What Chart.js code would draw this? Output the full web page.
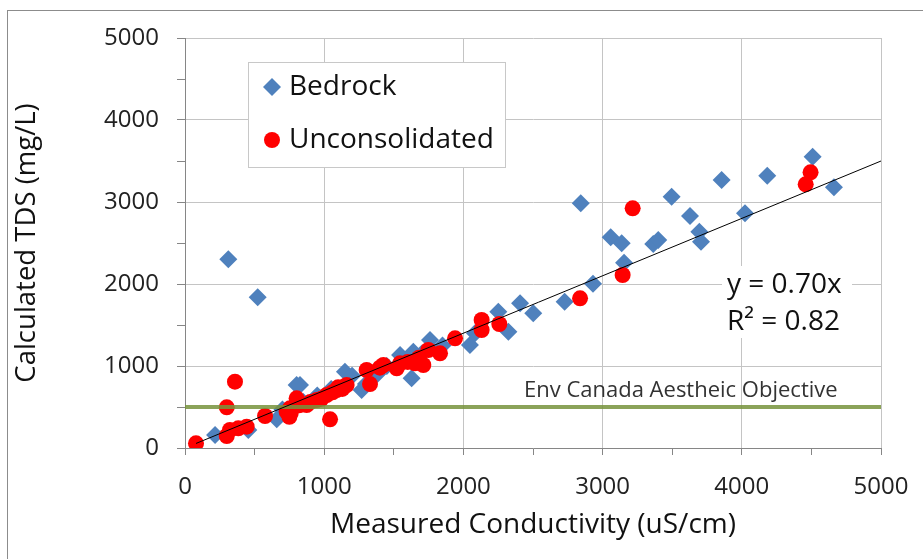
<!DOCTYPE html>
<html>
<head>
<meta charset="utf-8">
<script src="https://cdn.jsdelivr.net/npm/chart.js@4"></script>
<style>
  html, body { margin: 0; padding: 0; background: #fff; }
  canvas { display: block; }
</style>
</head>
<body>
<canvas id="tdsChart" width="923" height="559"></canvas>
<script>
// conductivity (uS/cm) vs calculated TDS (mg/L)
const bedrockCond = [216, 455, 659, 700, 802, 826, 850, 950, 1050, 1149, 1200, 1269, 1300, 1380, 1450, 1545, 1600, 1628, 1640, 1700, 1760, 1850, 2047, 2083, 2251, 2323, 2407, 2502, 2727, 2931, 2843, 3058, 3137, 3154, 3364, 3400, 3496, 3628, 3695, 3707, 3855, 4023, 4183, 4509, 4662, 311, 522];
const bedrockTds = [159, 220, 350, 470, 768, 768, 560, 640, 720, 930, 880, 707, 780, 900, 1000, 1134, 1080, 850, 1174, 1150, 1317, 1250, 1256, 1398, 1662, 1418, 1765, 1643, 1784, 2004, 2984, 2570, 2496, 2260, 2488, 2537, 3065, 2829, 2638, 2516, 3268, 2862, 3321, 3553, 3179, 2301, 1838];

const unconsCond = [79, 300, 300, 323, 359, 383, 443, 575, 730, 750, 754, 760, 802, 820, 874, 900, 946, 980, 1018, 1042, 1060, 1090, 1100, 1130, 1161, 1305, 1329, 1400, 1425, 1521, 1545, 1600, 1652, 1680, 1712, 1748, 1832, 1940, 2131, 2131, 2258, 2838, 3144, 3216, 4459, 4494];
const unconsTds = [57, 146, 496, 220, 809, 240, 260, 390, 443, 380, 484, 430, 606, 520, 524, 560, 585, 600, 646, 350, 680, 707, 740, 720, 768, 951, 780, 980, 1012, 972, 1033, 1050, 1033, 1100, 1012, 1195, 1155, 1338, 1561, 1439, 1512, 1825, 2110, 2923, 3216, 3362];

const xTickLabels = [0, 1000, 2000, 3000, 4000, 5000];
const yTickLabels = [0, 1000, 2000, 3000, 4000, 5000];

const trendSlope = 0.70;
const trendR2 = 0.82;
const trendRange = [79, 5000];
const aestheticLimit = 500;
const aestheticLabel = 'Env Canada Aestheic Objective';

const toPoints = (xs, ys) => xs.map((x, i) => ({ x, y: ys[i] }));

const FONT = '"Open Sans", "DejaVu Sans", sans-serif';

// outer frame of the chart
const framePlugin = {
  id: 'frame',
  beforeDraw(chart) {
    const ctx = chart.ctx;
    ctx.save();
    ctx.fillStyle = '#fff';
    ctx.fillRect(0, 0, chart.width, chart.height);
    ctx.strokeStyle = '#8c8c8c';
    ctx.lineWidth = 1;
    ctx.strokeRect(7.5, 10.5, chart.width + 20, chart.height + 20);
    ctx.restore();
  }
};

// legend box, trendline equation and objective label
const notesPlugin = {
  id: 'notes',
  afterDatasetsDraw(chart) {
    const ctx = chart.ctx;
    ctx.save();

    // objective label above the line
    ctx.font = '22px ' + FONT;
    ctx.fillStyle = '#333';
    ctx.textBaseline = 'alphabetic';
    ctx.textAlign = 'left';
    ctx.fillText(aestheticLabel, 524, 397);

    // equation box
    ctx.font = '28px ' + FONT;
    const eq = 'y = ' + trendSlope.toFixed(2) + 'x';
    const r2 = 'R² = ' + trendR2.toFixed(2);
    ctx.fillStyle = '#fff';
    ctx.fillRect(722, 266, 130, 72);
    ctx.fillStyle = '#111';
    ctx.fillText(eq, 727, 293);
    ctx.fillText(r2, 727, 330);

    // legend
    const lx = 248.5, ly = 62.5, lw = 257, lh = 105;
    ctx.fillStyle = '#fff';
    ctx.fillRect(lx, ly, lw, lh);
    ctx.strokeStyle = '#c8c8c8';
    ctx.lineWidth = 1;
    ctx.strokeRect(lx, ly, lw, lh);
    ctx.font = '28px ' + FONT;
    const rows = [87, 140];
    [0, 1].forEach((di, i) => {
      const ds = chart.data.datasets[di];
      const cy = rows[i];
      const cx = 272;
      ctx.fillStyle = ds.backgroundColor;
      ctx.beginPath();
      if (ds.pointStyle === 'rectRot') {
        const r = 9;
        ctx.moveTo(cx, cy - r);
        ctx.lineTo(cx + r, cy);
        ctx.lineTo(cx, cy + r);
        ctx.lineTo(cx - r, cy);
        ctx.closePath();
      } else {
        ctx.arc(cx, cy, 8, 0, Math.PI * 2);
      }
      ctx.fill();
      ctx.fillStyle = '#111';
      ctx.textBaseline = 'middle';
      ctx.fillText(ds.label, 289, cy);
    });
    ctx.restore();
  }
};

const tickCb = labels => v => labels.includes(v) ? String(v) : '';
const gridColor = c => (c.tick && c.tick.value % 1000 === 0) ? '#c4c4c4' : 'rgba(0,0,0,0)';

new Chart(document.getElementById('tdsChart'), {
  type: 'scatter',
  data: {
    datasets: [
      {
        label: 'Bedrock',
        data: toPoints(bedrockCond, bedrockTds),
        pointStyle: 'rectRot',
        radius: 9,
        backgroundColor: '#4F81BD',
        borderWidth: 0,
        order: 3
      },
      {
        label: 'Unconsolidated',
        data: toPoints(unconsCond, unconsTds),
        pointStyle: 'circle',
        radius: 8,
        backgroundColor: '#FF0000',
        borderWidth: 0,
        order: 2
      },
      {
        label: aestheticLabel,
        data: [{ x: 0, y: aestheticLimit }, { x: 5000, y: aestheticLimit }],
        showLine: true,
        borderColor: 'rgba(119,147,60,0.85)',
        borderWidth: 4,
        pointRadius: 0,
        order: 1
      },
      {
        label: 'Linear fit',
        data: trendRange.map(x => ({ x, y: trendSlope * x })),
        showLine: true,
        borderColor: '#000',
        borderWidth: 1,
        pointRadius: 0,
        order: 0
      }
    ]
  },
  options: {
    responsive: false,
    animation: false,
    devicePixelRatio: 1,
    events: [],
    layout: { padding: { left: 0, top: 38, right: 42, bottom: 0 } },
    plugins: { legend: { display: false }, tooltip: { enabled: false } },
    scales: {
      x: {
        type: 'linear',
        min: 0,
        max: 5000,
        afterFit: s => {
          s.height = 111;
          s.paddingLeft = 0;
          s.paddingRight = 0;
        },
        ticks: {
          stepSize: 500,
          autoSkip: false,
          maxRotation: 0,
          padding: 18,
          color: '#222',
          font: { family: FONT, size: 24 },
          callback: tickCb(xTickLabels)
        },
        grid: { color: gridColor, tickColor: '#868686', tickLength: 7 },
        border: { color: '#868686' },
        title: {
          display: true,
          text: 'Measured Conductivity (uS/cm)',
          color: '#111',
          font: { family: FONT, size: 28 },
          padding: { top: 0, bottom: 17 }
        }
      },
      y: {
        type: 'linear',
        min: 0,
        max: 5000,
        afterFit: s => {
          s.width = 185;
          s.paddingTop = 0;
          s.paddingBottom = 0;
        },
        ticks: {
          stepSize: 500,
          autoSkip: false,
          padding: 18,
          color: '#222',
          font: { family: FONT, size: 24 },
          callback: tickCb(yTickLabels)
        },
        grid: { color: gridColor, tickColor: '#868686', tickLength: 8 },
        border: { color: '#868686' },
        title: {
          display: true,
          text: 'Calculated TDS (mg/L)',
          color: '#111',
          font: { family: FONT, size: 27.5 },
          padding: { top: 11, bottom: 0 }
        }
      }
    }
  },
  plugins: [framePlugin, notesPlugin]
});
</script>
</body>
</html>
